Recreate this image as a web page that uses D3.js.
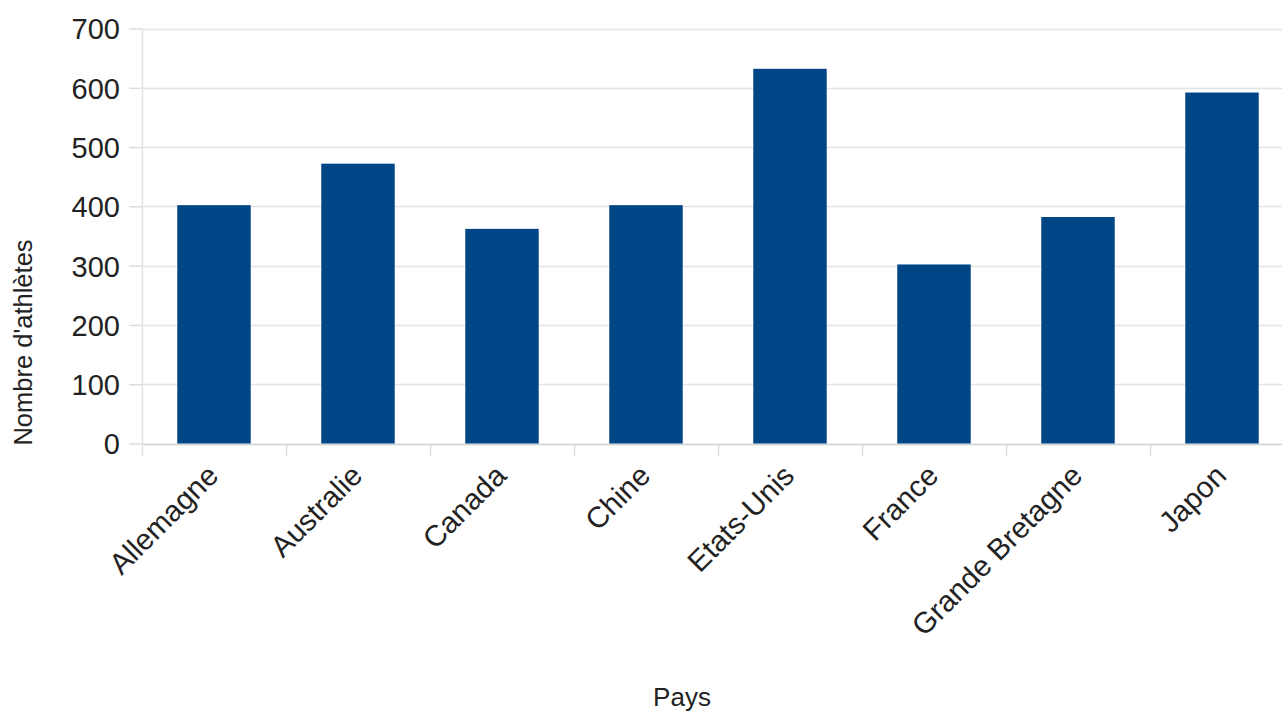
<!DOCTYPE html>
<html>
<head>
<meta charset="utf-8">
<script src="https://cdn.jsdelivr.net/npm/d3@7"></script>
<style>
  body { margin: 0; background: #fff; }
  text { font-family: "Liberation Sans", Arial, sans-serif; fill: #222; }
</style>
</head>
<body>
<svg id="chart" width="1282" height="713"></svg>
<script>
// ── Data ──
const pays = ["Allemagne", "Australie", "Canada", "Chine", "Etats-Unis", "France", "Grande Bretagne", "Japon"];
const athletes = [402, 472, 362, 402, 632, 302, 382, 592];
const yTicks = [0, 100, 200, 300, 400, 500, 600, 700];

const svg = d3.select("#chart");

// ── Scales ──
const x = d3.scaleBand()
  .domain(pays)
  .range([142, 1294])
  .paddingInner(0.49)
  .paddingOuter(0.245);

const y = d3.scaleLinear()
  .domain([0, 700])
  .range([443.5, 28.5]);

// ── Grid + y axis ──
const yAxis = d3.axisLeft(y)
  .tickValues(yTicks)
  .tickSize(13)
  .tickPadding(9);

svg.append("g")
  .attr("class", "grid")
  .selectAll("line")
  .data(yTicks)
  .join("line")
  .attr("x1", 142).attr("x2", 1282)
  .attr("y1", d => Math.round(y(d)) + 0.5)
  .attr("y2", d => Math.round(y(d)) + 0.5)
  .attr("stroke", d => d === 0 ? "#cfcfcf" : "#e3e3e3")
  .attr("stroke-width", 1.5);

const gy = svg.append("g")
  .attr("transform", "translate(142,0)")
  .call(yAxis);
gy.select(".domain").attr("stroke", "#e3e3e3").attr("stroke-width", 1.5)
  .attr("d", `M0.5,${y(700)}V${y(0) + 12}`);
gy.selectAll(".tick line").attr("stroke", "#dcdcdc").attr("stroke-width", 1.5);
gy.selectAll(".tick text")
  .style("font-size", "29px")
  .attr("fill", "#222")
  .attr("dy", "0.36em");

// ── x ticks at category boundaries ──
const half = (x.step() - x.bandwidth()) / 2;
svg.append("g")
  .selectAll("line")
  .data(pays.slice(1))
  .join("line")
  .attr("x1", d => Math.round(x(d) - half) + 0.5)
  .attr("x2", d => Math.round(x(d) - half) + 0.5)
  .attr("y1", y(0))
  .attr("y2", y(0) + 13)
  .attr("stroke", "#dcdcdc")
  .attr("stroke-width", 1.5);

// ── Bars ──
svg.append("g")
  .selectAll("rect")
  .data(pays)
  .join("rect")
  .attr("x", d => x(d))
  .attr("width", x.bandwidth())
  .attr("y", (d, i) => y(athletes[i]))
  .attr("height", (d, i) => y(0) - y(athletes[i]))
  .attr("fill", "#004586");

// ── Category labels ──
svg.append("g")
  .selectAll("text")
  .data(pays)
  .join("text")
  .attr("transform", d => `translate(${x(d) + x.bandwidth() / 2 + 6},${477.5}) rotate(-45)`)
  .attr("text-anchor", "end")
  .style("font-size", "29.5px")
  .text(d => d);

// ── Axis titles ──
svg.append("text")
  .attr("x", 682)
  .attr("y", 706)
  .attr("text-anchor", "middle")
  .style("font-size", "26px")
  .text("Pays");

svg.append("text")
  .attr("transform", "translate(32,342.5) rotate(-90)")
  .attr("text-anchor", "middle")
  .style("font-size", "25.5px")
  .text("Nombre d'athlètes");
</script>
</body>
</html>
